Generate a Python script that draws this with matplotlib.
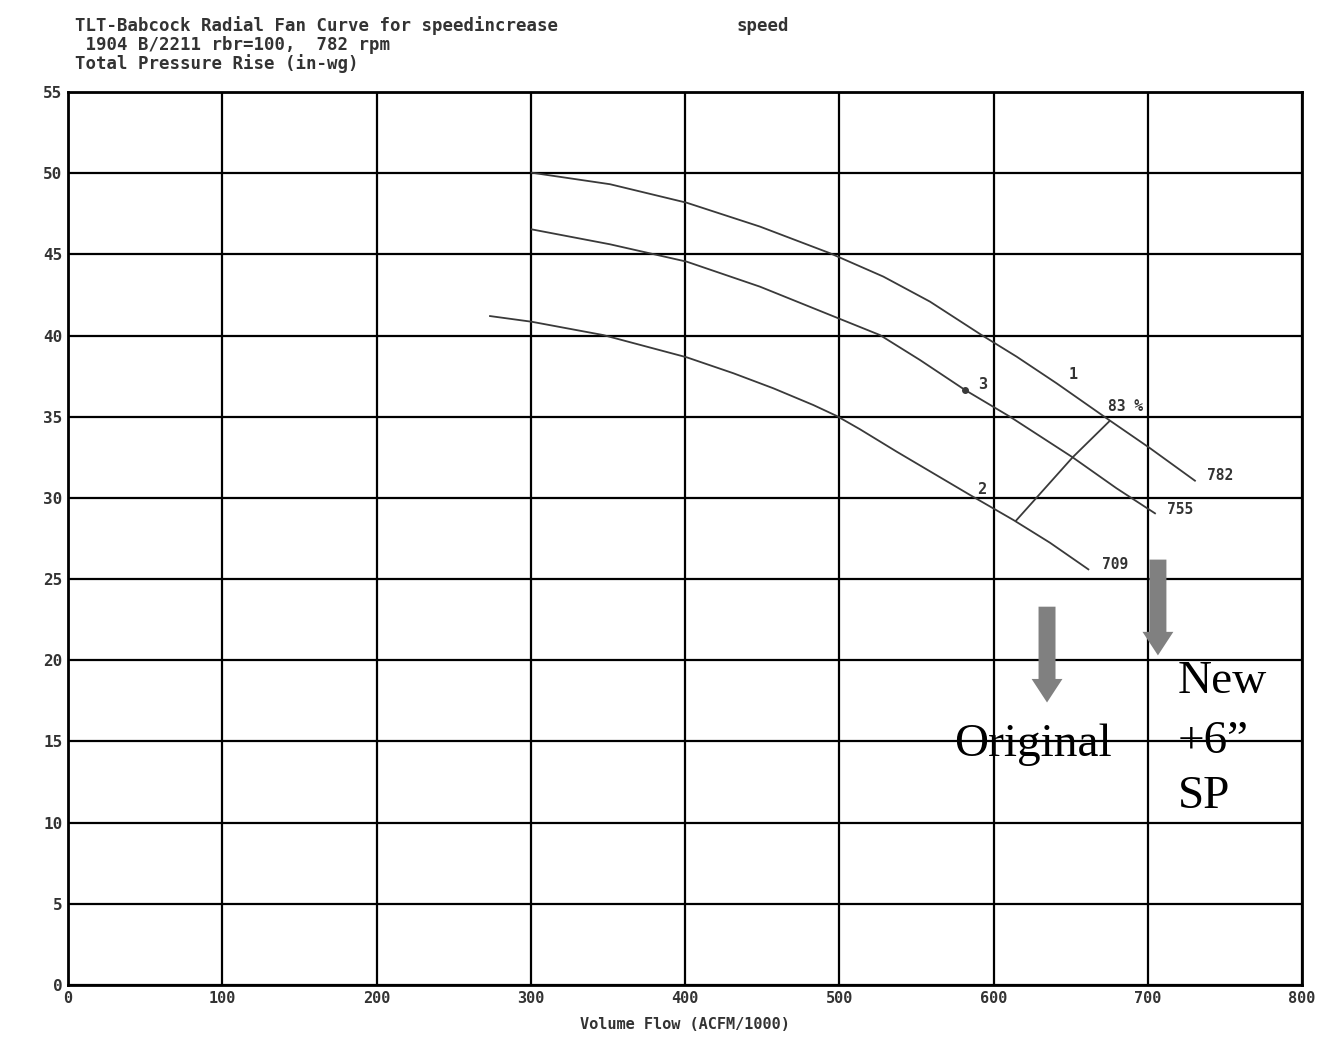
import matplotlib
matplotlib.use("Agg")
import matplotlib.pyplot as plt

# fan curves: flow (ACFM/1000) vs total pressure rise (in-wg)
flow_782 = [300.6, 351.4, 401.1, 448.6, 494.0, 528.6, 558.8, 592.3, 615.0, 640.9, 675.5, 701.5, 730.6]
pres_782 = [50.03, 49.32, 48.18, 46.71, 45.07, 43.63, 42.09, 40.03, 38.70, 37.06, 34.76, 33.06, 31.06]

flow_755 = [300.6, 351.4, 401.1, 448.6, 494.0, 526.4, 552.4, 581.5, 610.7, 651.3, 679.8, 704.7]
pres_755 = [46.54, 45.62, 44.55, 43.01, 41.27, 40.03, 38.49, 36.65, 35.0, 32.5, 30.59, 29.05]

flow_709 = [273.6, 300.6, 347.0, 401.1, 431.3, 457.3, 483.2, 498.3, 513.4, 537.2, 584.8, 612.9, 636.6, 661.5]
pres_709 = [41.2, 40.85, 40.03, 38.66, 37.68, 36.75, 35.72, 35.05, 34.23, 32.85, 30.18, 28.64, 27.24, 25.6]

# 83 % efficiency line
eff_flow = [614.6, 651.3, 674.9]
eff_pres = [28.6, 32.5, 34.7]

rpm_labels = ["782", "755", "709"]
rpm_label_x = [738.4, 712.5, 670.3]
rpm_label_y = [31.4, 29.3, 25.9]

point_labels = ["1", "3", "2"]
point_x = [651.5, 593.2, 592.5]
point_y = [37.6, 37.0, 30.5]

xticks = list(range(0, 801, 100))
yticks = list(range(0, 56, 5))

mono = "DejaVu Sans Mono"
serif = "Liberation Serif"

fig = plt.figure(figsize=(13.31, 10.40), dpi=100)
ax = fig.add_axes([68/1331, 1 - 985/1040, (1302-68)/1331, (985-92)/1040])

ax.set_xlim(0, 800)
ax.set_ylim(0, 55)
ax.set_xticks(xticks)
ax.set_yticks(yticks)
ax.set_xticklabels([str(t) for t in xticks], fontfamily=mono, fontsize=11, fontweight="bold", color="#333333")
ax.set_yticklabels([str(t) for t in yticks], fontfamily=mono, fontsize=11.5, fontweight="bold", color="#333333")
ax.tick_params(length=0, pad=4)
ax.grid(True, color="black", lw=1.6)
ax.set_axisbelow(True)
for s in ax.spines.values():
    s.set_linewidth(2)
ax.set_xlabel("Volume Flow (ACFM/1000)", fontfamily=mono, fontsize=11, fontweight="bold",
              color="#333333", labelpad=8)

curve_col = "#3a3a3a"
ax.plot(flow_782, pres_782, color=curve_col, lw=1.3)
ax.plot(flow_755, pres_755, color=curve_col, lw=1.3)
ax.plot(flow_709, pres_709, color=curve_col, lw=1.3)
ax.plot(eff_flow, eff_pres, color=curve_col, lw=1.3)
ax.plot([flow_755[7]], [pres_755[7]], "o", color=curve_col, ms=4)

for lab, x, y in zip(rpm_labels, rpm_label_x, rpm_label_y):
    ax.text(x, y, lab, fontfamily=mono, fontsize=10.5, fontweight="bold", color="#333333",
            va="center", ha="left")
for lab, x, y in zip(point_labels, point_x, point_y):
    ax.text(x, y, lab, fontfamily=mono, fontsize=11, fontweight="bold", color="#333333",
            va="center", ha="center")
ax.text(674.2, 35.6, "83 %", fontfamily=mono, fontsize=10.5, fontweight="bold", color="#333333",
        va="center", ha="left")

# annotation arrows
arrow_col = "#808080"
ax.arrow(634.7, 23.3, 0, 17.4 - 23.3, width=11, head_width=20, head_length=1.45,
         length_includes_head=True, color=arrow_col, lw=0)
ax.arrow(706.6, 26.2, 0, 20.3 - 26.2, width=11, head_width=20, head_length=1.45,
         length_includes_head=True, color=arrow_col, lw=0)

ax.text(625.5, 14.8, "Original", fontfamily=serif, fontsize=34, va="center", ha="center")
ax.text(719.6, 18.66, "New", fontfamily=serif, fontsize=34, va="center", ha="left")
ax.text(719.6, 14.97, "+6\u201d", fontfamily=serif, fontsize=34, va="center", ha="left")
ax.text(719.6, 11.58, "SP", fontfamily=serif, fontsize=34, va="center", ha="left")

# header lines
hdr = dict(fontfamily=mono, fontsize=12.5, fontweight="bold", color="#333333", va="center", ha="left")
fig.text(75/1331, 1 - 26/1040, "TLT-Babcock Radial Fan Curve for speedincrease", **hdr)
fig.text(736/1331, 1 - 26/1040, "speed", **hdr)
fig.text(75/1331, 1 - 45/1040, " 1904 B/2211 rbr=100,  782 rpm", **hdr)
fig.text(75/1331, 1 - 64/1040, "Total Pressure Rise (in-wg)", **hdr)

fig.savefig("out.png", dpi=100)
